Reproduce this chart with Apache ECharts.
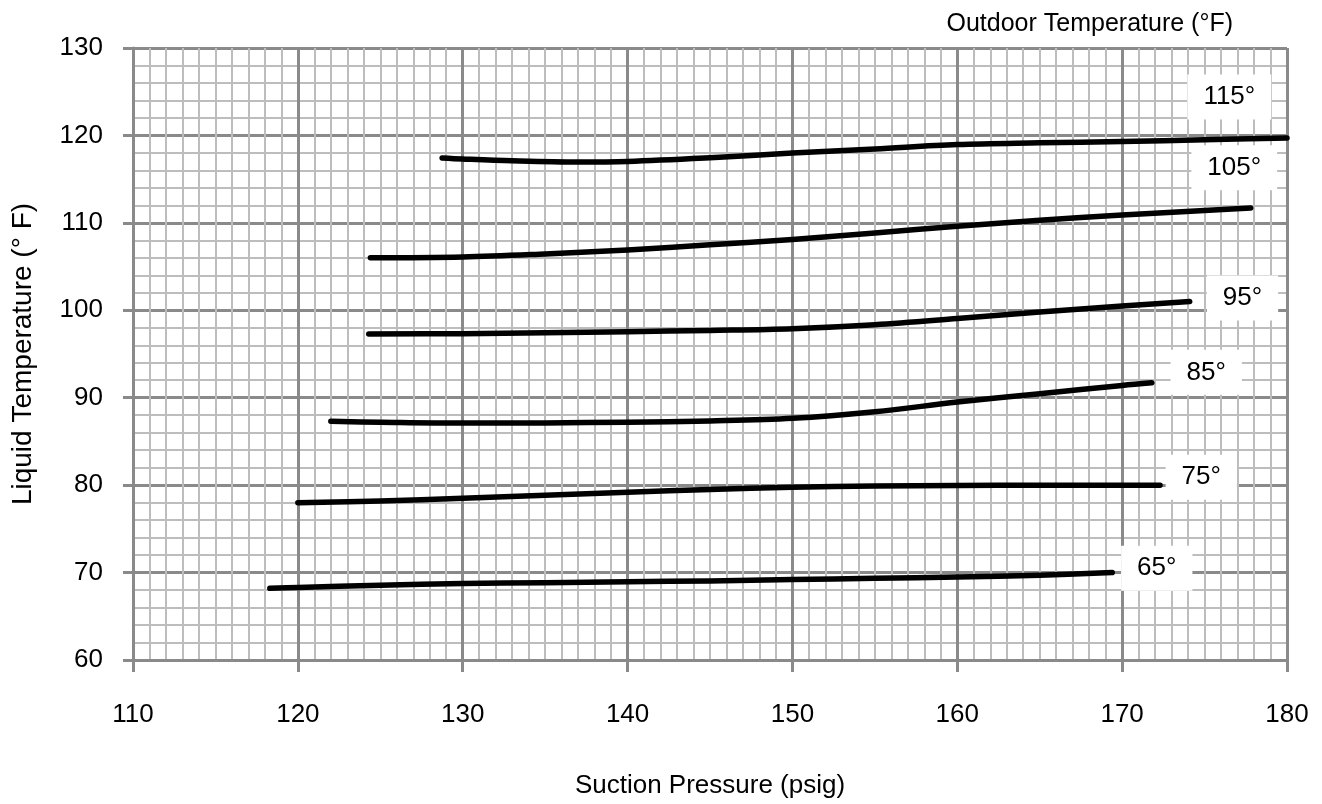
<!DOCTYPE html>
<html>
<head>
<meta charset="utf-8">
<script src="https://cdn.jsdelivr.net/npm/echarts@6/dist/echarts.min.js"></script>
<style>html,body{margin:0;padding:0;background:#fff;}#chart{width:1322px;height:804px;}</style>
</head>
<body>
<div id="chart"></div>
<script>
// Data (suction pressure psig -> liquid temperature °F)
const seriesNames = ['65°', '75°', '85°', '95°', '105°', '115°'];
const x65 = [118.3, 120, 125, 130, 135, 140, 145, 150, 155, 160, 165, 169.4];
const y65 = [68.2, 68.3, 68.55, 68.75, 68.85, 68.95, 69.05, 69.2, 69.35, 69.5, 69.7, 70.0];
const x75 = [120, 125, 130, 135, 140, 145, 150, 155, 160, 165, 170, 172.3];
const y75 = [78.0, 78.2, 78.5, 78.85, 79.2, 79.5, 79.75, 79.9, 79.95, 80.0, 80.0, 80.0];
const x85 = [122.0, 125, 130, 135, 140, 145, 150, 155, 160, 165, 170, 171.8];
const y85 = [87.3, 87.2, 87.1, 87.12, 87.2, 87.35, 87.65, 88.4, 89.5, 90.45, 91.4, 91.7];
const x95 = [124.3, 130, 135, 140, 145, 150, 155, 160, 165, 170, 174.1];
const y95 = [97.3, 97.32, 97.42, 97.55, 97.7, 97.9, 98.35, 99.05, 99.8, 100.5, 101.0];
const x105 = [124.4, 130, 135, 140, 145, 150, 155, 160, 165, 170, 175, 177.8];
const y105 = [106.0, 106.1, 106.45, 106.9, 107.5, 108.1, 108.85, 109.6, 110.3, 110.9, 111.4, 111.7];
const x115 = [128.75, 130, 133, 137, 140, 145, 150, 155, 160, 165, 170, 175, 180];
const y115 = [117.43, 117.31, 117.1, 116.96, 117.03, 117.45, 117.98, 118.45, 118.95, 119.15, 119.3, 119.5, 119.7];
const labelX = [172.1, 174.8, 175.1, 177.3, 176.8, 176.5];
const labelY = [70.5, 80.9, 92.9, 101.4, 116.3, 124.4];
const xTicks = [110, 120, 130, 140, 150, 160, 170, 180];
const yTicks = [60, 70, 80, 90, 100, 110, 120, 130];

const xs = [x65, x75, x85, x95, x105, x115];
const ys = [y65, y75, y85, y95, y105, y115];

const font = '"Liberation Sans", Arial, sans-serif';
const chart = echarts.init(document.getElementById('chart'), null, {renderer: 'canvas'});

const lineSeries = seriesNames.map((n, i) => ({
  name: n,
  type: 'line',
  data: xs[i].map((x, j) => [x, ys[i][j]]),
  smooth: 0.35,
  showSymbol: false,
  symbol: 'none',
  lineStyle: {color: '#000', width: 5.5, cap: 'round', join: 'round'},
  z: 5,
  silent: true
}));

const labelSeries = {
  type: 'scatter',
  symbolSize: 0,
  itemStyle: {opacity: 1, color: '#000'},
  data: seriesNames.map((n, i) => ({value: [labelX[i], labelY[i]], name: n})),
  label: {
    show: true,
    position: 'inside',
    formatter: p => p.name,
    color: '#000',
    opacity: 1,
    textBorderWidth: 0,
    fontSize: 26,
    fontFamily: font,
    backgroundColor: '#fff',
    padding: [10, 16, 9, 16]
  },
  z: 6,
  silent: true
};

chart.setOption({
  animation: false,
  backgroundColor: '#fff',
  grid: {left: 133, right: 35, top: 48, bottom: 144, containLabel: false, outerBoundsMode: 'none'},
  title: {
    text: 'Outdoor Temperature (°F)',
    right: 84,
    top: 7,
    textStyle: {fontSize: 25, fontWeight: 'normal', color: '#000', fontFamily: font}
  },
  xAxis: {
    type: 'value',
    min: 110, max: 180, interval: 10,
    name: 'Suction Pressure (psig)',
    nameLocation: 'middle',
    nameGap: 113,
    nameTextStyle: {fontSize: 26, color: '#000', fontFamily: font},
    axisLine: {show: true, lineStyle: {color: '#8a8a8a', width: 3}},
    axisTick: {show: true, length: 12, lineStyle: {color: '#8a8a8a', width: 3}},
    axisLabel: {fontSize: 26, color: '#000', fontFamily: font, margin: 42,
      formatter: v => xTicks.includes(v) ? String(v) : ''},
    splitLine: {show: true, lineStyle: {color: '#8a8a8a', width: 3}},
    minorTick: {show: true, splitNumber: 10, length: 0},
    minorSplitLine: {show: true, lineStyle: {color: '#bdbdbd', width: 2}}
  },
  yAxis: {
    type: 'value',
    min: 60, max: 130, interval: 10,
    name: 'Liquid Temperature (° F)',
    nameLocation: 'middle',
    nameGap: 96,
    nameRotate: 90,
    nameTextStyle: {fontSize: 28, color: '#000', fontFamily: font},
    axisLine: {show: true, lineStyle: {color: '#8a8a8a', width: 3}},
    axisTick: {show: true, length: 10, lineStyle: {color: '#8a8a8a', width: 3}},
    axisLabel: {fontSize: 26, color: '#000', fontFamily: font, margin: 30,
      formatter: v => yTicks.includes(v) ? String(v) : ''},
    splitLine: {show: true, lineStyle: {color: '#8a8a8a', width: 3}},
    minorTick: {show: true, splitNumber: 5, length: 0},
    minorSplitLine: {show: true, lineStyle: {color: '#bdbdbd', width: 2}}
  },
  series: [...lineSeries, labelSeries]
});
</script>
</body>
</html>
